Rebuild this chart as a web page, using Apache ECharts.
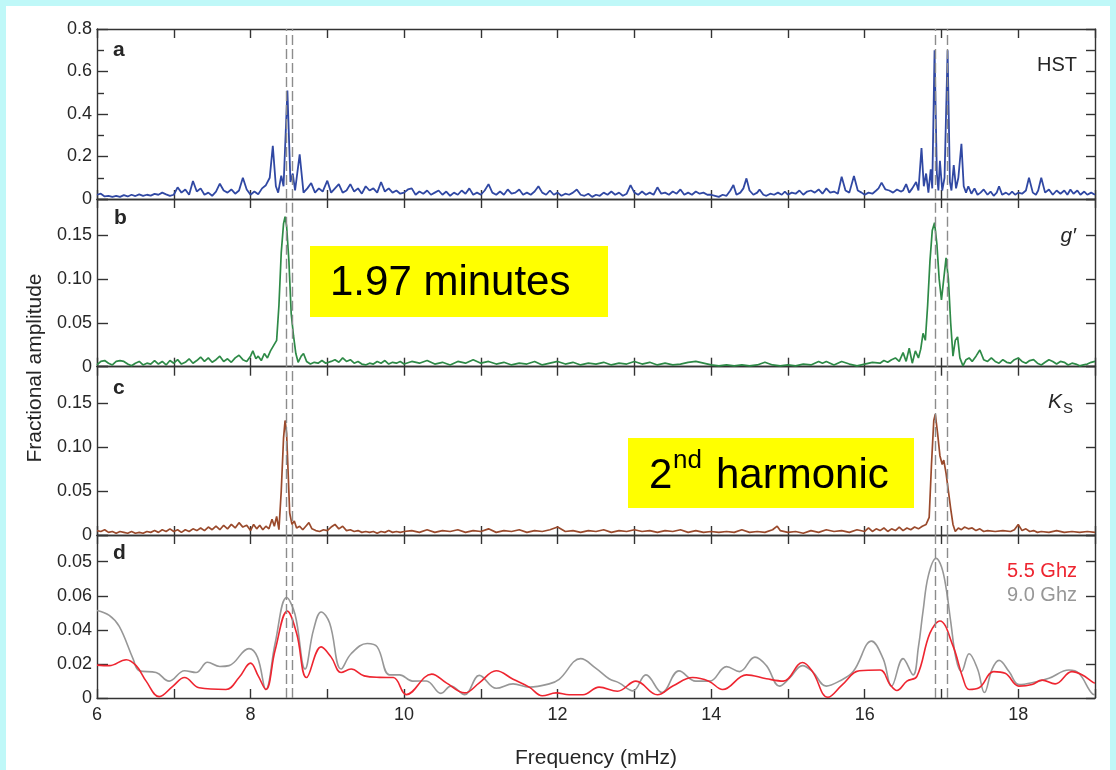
<!DOCTYPE html>
<html>
<head>
<meta charset="utf-8">
<script src="https://cdn.jsdelivr.net/npm/echarts@6/dist/echarts.min.js"></script>
<style>
  html, body { margin: 0; padding: 0; background: #bff8f8; }
  #sheet { position: absolute; left: 6px; top: 6px; width: 1104px; height: 764px; background: #ffffff; }
  #chart { position: absolute; left: 0; top: 0; width: 1116px; height: 770px; }
</style>
</head>
<body>
<div id="sheet"></div>
<div id="chart"></div>
<script>
// ---- Frequency axis (mHz) ----
const freqMin = 6;
const freqMax = 19;
const freqLabelValues = [6, 8, 10, 12, 14, 16, 18];

// Orbital frequency and its harmonic (dashed pairs)
const dashedFreqs = [8.47, 8.54, 16.92, 17.07];

// ---- Tick labels per panel ----
const aTickLabels = ['0', '0.2', '0.4', '0.6', '0.8'];
const bcTickLabels = ['0', '0.05', '0.10', '0.15'];
const dTickLabels = ['0', '0.02', '0.04', '0.06', '0.05'];

// ---- Panel a: HST amplitude spectrum [freq, amplitude] ----
const hstSpectrum = [
  [6.00,0.02],[6.05,0.025],[6.10,0.012],[6.15,0.015],[6.20,0.01],[6.25,0.015],[6.30,0.01],[6.35,0.018],[6.40,0.012],[6.45,0.02],
  [6.50,0.014],[6.55,0.022],[6.60,0.015],[6.65,0.02],[6.70,0.016],[6.75,0.024],[6.80,0.02],[6.85,0.03],[6.90,0.022],[6.95,0.015],
  [7.00,0.02],[7.05,0.055],[7.10,0.03],[7.15,0.045],[7.20,0.02],[7.25,0.085],[7.30,0.035],[7.35,0.05],[7.40,0.02],[7.45,0.03],
  [7.50,0.015],[7.55,0.035],[7.60,0.072],[7.65,0.04],[7.70,0.03],[7.75,0.045],[7.80,0.025],[7.85,0.04],[7.90,0.1],[7.95,0.045],
  [8.00,0.02],[8.05,0.035],[8.10,0.022],[8.15,0.05],[8.20,0.065],[8.25,0.1],[8.29,0.25],[8.33,0.06],[8.36,0.03],[8.40,0.11],
  [8.43,0.06],[8.48,0.51],[8.52,0.08],[8.55,0.12],[8.58,0.04],[8.64,0.21],[8.69,0.03],[8.74,0.05],[8.79,0.075],[8.84,0.03],
  [8.89,0.05],[8.94,0.035],[9.00,0.086],[9.05,0.03],[9.10,0.05],[9.15,0.07],[9.20,0.03],[9.25,0.04],[9.30,0.07],[9.35,0.035],
  [9.40,0.05],[9.45,0.025],[9.50,0.06],[9.55,0.04],[9.60,0.05],[9.65,0.03],[9.70,0.08],[9.75,0.035],[9.80,0.05],[9.85,0.03],
  [9.90,0.04],[9.95,0.025],[10.00,0.03],[10.05,0.045],[10.10,0.05],[10.15,0.02],[10.20,0.035],[10.25,0.025],[10.30,0.04],[10.35,0.02],
  [10.40,0.03],[10.45,0.04],[10.50,0.02],[10.55,0.035],[10.60,0.015],[10.65,0.03],[10.70,0.02],[10.75,0.04],[10.80,0.025],[10.85,0.05],
  [10.90,0.02],[10.95,0.03],[11.00,0.02],[11.05,0.04],[11.10,0.07],[11.15,0.03],[11.20,0.02],[11.25,0.035],[11.30,0.02],[11.35,0.045],
  [11.40,0.025],[11.45,0.03],[11.50,0.045],[11.55,0.02],[11.60,0.03],[11.65,0.02],[11.70,0.035],[11.75,0.06],[11.80,0.03],[11.85,0.02],
  [11.90,0.04],[11.95,0.02],[12.00,0.03],[12.05,0.015],[12.10,0.025],[12.15,0.02],[12.20,0.03],[12.25,0.045],[12.30,0.02],[12.35,0.015],
  [12.40,0.025],[12.45,0.01],[12.50,0.02],[12.55,0.015],[12.60,0.03],[12.65,0.02],[12.70,0.035],[12.75,0.02],[12.80,0.03],[12.85,0.015],
  [12.90,0.025],[12.95,0.065],[13.00,0.03],[13.05,0.02],[13.10,0.035],[13.15,0.02],[13.20,0.03],[13.25,0.02],[13.30,0.055],[13.35,0.025],
  [13.40,0.03],[13.45,0.02],[13.50,0.035],[13.55,0.025],[13.60,0.045],[13.65,0.02],[13.70,0.03],[13.75,0.02],[13.80,0.035],[13.85,0.025],
  [13.90,0.03],[13.95,0.02],[14.00,0.02],[14.05,0.015],[14.10,0.01],[14.15,0.02],[14.20,0.015],[14.25,0.04],[14.29,0.066],[14.33,0.02],
  [14.38,0.03],[14.42,0.05],[14.46,0.097],[14.50,0.04],[14.55,0.02],[14.60,0.03],[14.63,0.045],[14.68,0.02],[14.72,0.015],[14.77,0.025],
  [14.82,0.02],[14.87,0.03],[14.92,0.02],[14.96,0.035],[15.00,0.02],[15.05,0.03],[15.10,0.025],[15.15,0.04],[15.20,0.02],[15.25,0.035],
  [15.30,0.04],[15.35,0.03],[15.40,0.045],[15.45,0.025],[15.50,0.05],[15.55,0.03],[15.60,0.035],[15.65,0.025],[15.70,0.105],[15.75,0.04],
  [15.80,0.03],[15.86,0.108],[15.91,0.04],[15.96,0.03],[16.00,0.02],[16.05,0.03],[16.10,0.025],[16.15,0.04],[16.18,0.05],[16.22,0.077],
  [16.27,0.045],[16.32,0.04],[16.37,0.03],[16.42,0.045],[16.47,0.035],[16.50,0.04],[16.54,0.07],[16.58,0.03],[16.62,0.05],[16.67,0.08],
  [16.70,0.04],[16.74,0.24],[16.77,0.06],[16.80,0.12],[16.83,0.03],[16.86,0.14],[16.88,0.05],[16.91,0.70],[16.94,0.12],[16.96,0.04],
  [16.98,0.18],[17.01,0.04],[17.04,0.1],[17.08,0.70],[17.11,0.08],[17.13,0.04],[17.16,0.16],[17.19,0.05],[17.22,0.1],[17.26,0.26],
  [17.29,0.06],[17.32,0.03],[17.35,0.06],[17.39,0.025],[17.43,0.05],[17.47,0.02],[17.51,0.03],[17.55,0.045],[17.60,0.02],[17.64,0.035],
  [17.68,0.015],[17.72,0.03],[17.75,0.06],[17.79,0.02],[17.84,0.03],[17.88,0.02],[17.92,0.035],[17.96,0.02],[18.00,0.03],[18.05,0.025],
  [18.10,0.04],[18.14,0.10],[18.19,0.03],[18.23,0.02],[18.26,0.04],[18.30,0.10],[18.35,0.03],[18.40,0.045],[18.45,0.02],[18.50,0.04],
  [18.55,0.025],[18.60,0.04],[18.64,0.02],[18.68,0.045],[18.72,0.025],[18.77,0.04],[18.81,0.02],[18.86,0.035],[18.90,0.02],[18.95,0.03],
  [19.00,0.02]
];

// ---- Panel b: g' amplitude spectrum ----
const gSpectrum = [
  [6.00,0.002],[6.05,0.006],[6.10,0.007],[6.15,0.004],[6.20,0.002],[6.25,0.006],[6.30,0.007],[6.35,0.006],[6.40,0.003],[6.45,0.001],
  [6.50,0.004],[6.55,0.006],[6.60,0.002],[6.65,0.004],[6.70,0.003],[6.75,0.007],[6.80,0.003],[6.85,0.006],[6.90,0.002],[6.95,0.007],
  [7.00,0.004],[7.05,0.008],[7.10,0.003],[7.15,0.005],[7.20,0.009],[7.25,0.004],[7.30,0.007],[7.35,0.011],[7.40,0.006],[7.45,0.01],
  [7.50,0.005],[7.55,0.008],[7.60,0.012],[7.65,0.006],[7.70,0.009],[7.75,0.005],[7.80,0.01],[7.85,0.013],[7.90,0.008],[7.95,0.006],
  [8.00,0.012],[8.03,0.018],[8.07,0.009],[8.10,0.012],[8.14,0.007],[8.18,0.015],[8.22,0.01],[8.26,0.018],[8.30,0.024],[8.34,0.03],
  [8.37,0.07],[8.40,0.13],[8.43,0.163],[8.45,0.171],[8.47,0.16],[8.50,0.12],[8.53,0.06],[8.56,0.035],[8.59,0.015],[8.62,0.005],
  [8.66,0.012],[8.69,0.015],[8.73,0.006],[8.78,0.003],[8.83,0.005],[8.88,0.004],[8.93,0.007],[8.98,0.004],[9.05,0.006],[9.10,0.008],
  [9.15,0.005],[9.20,0.01],[9.25,0.006],[9.30,0.008],[9.35,0.004],[9.40,0.006],[9.45,0.003],[9.50,0.002],[9.55,0.004],[9.60,0.003],
  [9.65,0.006],[9.70,0.004],[9.75,0.007],[9.80,0.003],[9.85,0.005],[9.90,0.004],[9.95,0.006],[10.0,0.003],[10.1,0.006],[10.2,0.004],
  [10.3,0.007],[10.4,0.003],[10.5,0.005],[10.6,0.002],[10.7,0.006],[10.8,0.004],[10.9,0.008],[11.0,0.004],[11.1,0.006],[11.2,0.003],
  [11.3,0.005],[11.4,0.002],[11.5,0.004],[11.6,0.003],[11.7,0.006],[11.8,0.002],[11.9,0.004],[12.0,0.006],[12.1,0.003],[12.2,0.005],
  [12.3,0.002],[12.4,0.004],[12.5,0.003],[12.6,0.005],[12.7,0.002],[12.8,0.004],[12.9,0.003],[13.0,0.006],[13.1,0.003],[13.2,0.005],
  [13.3,0.002],[13.4,0.004],[13.5,0.002],[13.6,0.003],[13.7,0.005],[13.8,0.006],[13.9,0.004],[14.0,0.002],[14.1,0.001],[14.2,0.002],
  [14.3,0.001],[14.4,0.002],[14.5,0.001],[14.6,0.002],[14.7,0.005],[14.8,0.002],[14.9,0.001],[15.0,0.002],[15.1,0.001],[15.2,0.003],
  [15.3,0.002],[15.4,0.006],[15.45,0.004],[15.5,0.006],[15.6,0.002],[15.7,0.006],[15.8,0.003],[15.9,0.001],[16.0,0.003],[16.1,0.005],
  [16.2,0.004],[16.25,0.007],[16.3,0.005],[16.35,0.008],[16.4,0.01],[16.45,0.006],[16.5,0.016],[16.54,0.006],[16.58,0.021],[16.62,0.004],
  [16.66,0.018],[16.70,0.01],[16.73,0.02],[16.76,0.038],[16.79,0.03],[16.82,0.07],[16.85,0.12],[16.88,0.155],[16.91,0.164],[16.94,0.14],
  [16.97,0.1],[17.00,0.076],[17.03,0.1],[17.06,0.124],[17.09,0.1],[17.12,0.05],[17.15,0.012],[17.18,0.03],[17.21,0.034],[17.24,0.01],
  [17.28,0.001],[17.32,0.008],[17.36,0.01],[17.40,0.006],[17.45,0.012],[17.50,0.019],[17.55,0.008],[17.60,0.006],[17.65,0.01],[17.70,0.006],
  [17.75,0.004],[17.80,0.008],[17.85,0.005],[17.90,0.004],[17.95,0.008],[18.0,0.01],[18.05,0.006],[18.1,0.004],[18.15,0.007],[18.2,0.008],
  [18.25,0.004],[18.3,0.002],[18.35,0.005],[18.4,0.008],[18.45,0.006],[18.5,0.003],[18.55,0.006],[18.6,0.005],[18.65,0.002],[18.7,0.004],
  [18.75,0.003],[18.8,0.001],[18.85,0.002],[18.9,0.003],[18.95,0.005],[19.0,0.006]
];

// ---- Panel c: Ks amplitude spectrum ----
const ksSpectrum = [
  [6.00,0.005],[6.05,0.004],[6.10,0.006],[6.15,0.003],[6.20,0.004],[6.25,0.002],[6.30,0.004],[6.35,0.003],[6.40,0.002],[6.45,0.004],
  [6.50,0.002],[6.55,0.003],[6.60,0.002],[6.65,0.004],[6.70,0.003],[6.75,0.005],[6.80,0.003],[6.85,0.006],[6.90,0.004],[6.95,0.007],
  [7.00,0.004],[7.05,0.006],[7.10,0.003],[7.15,0.006],[7.20,0.004],[7.25,0.007],[7.30,0.005],[7.35,0.008],[7.40,0.005],[7.45,0.009],
  [7.50,0.006],[7.55,0.01],[7.60,0.006],[7.65,0.011],[7.70,0.007],[7.75,0.012],[7.80,0.008],[7.85,0.014],[7.90,0.009],[7.95,0.011],
  [8.00,0.005],[8.04,0.012],[8.08,0.007],[8.12,0.011],[8.16,0.006],[8.20,0.01],[8.24,0.007],[8.28,0.018],[8.31,0.01],[8.34,0.021],
  [8.37,0.006],[8.40,0.05],[8.43,0.11],[8.45,0.13],[8.47,0.115],[8.49,0.07],[8.51,0.025],[8.54,0.012],[8.57,0.016],[8.60,0.008],
  [8.64,0.01],[8.68,0.006],[8.72,0.01],[8.76,0.014],[8.80,0.007],[8.85,0.005],[8.90,0.004],[8.95,0.006],[9.00,0.005],[9.05,0.009],
  [9.10,0.012],[9.15,0.007],[9.20,0.01],[9.25,0.005],[9.30,0.006],[9.35,0.004],[9.40,0.005],[9.45,0.003],[9.50,0.004],[9.55,0.003],
  [9.60,0.004],[9.65,0.002],[9.70,0.004],[9.75,0.003],[9.80,0.005],[9.85,0.003],[9.90,0.004],[9.95,0.003],[10.0,0.004],[10.1,0.005],
  [10.2,0.003],[10.3,0.006],[10.4,0.003],[10.5,0.005],[10.6,0.004],[10.7,0.006],[10.8,0.003],[10.9,0.005],[11.0,0.004],[11.1,0.007],
  [11.2,0.003],[11.3,0.005],[11.4,0.004],[11.5,0.006],[11.6,0.003],[11.7,0.005],[11.8,0.004],[11.9,0.006],[12.0,0.009],[12.1,0.004],
  [12.2,0.005],[12.3,0.003],[12.4,0.005],[12.5,0.004],[12.6,0.006],[12.7,0.003],[12.8,0.005],[12.9,0.004],[13.0,0.006],[13.1,0.004],
  [13.2,0.005],[13.3,0.003],[13.4,0.005],[13.5,0.004],[13.6,0.006],[13.7,0.003],[13.8,0.005],[13.9,0.003],[14.0,0.004],[14.1,0.003],
  [14.2,0.004],[14.3,0.003],[14.4,0.006],[14.5,0.003],[14.6,0.004],[14.7,0.003],[14.8,0.006],[14.86,0.01],[14.9,0.005],[15.0,0.003],
  [15.1,0.004],[15.2,0.002],[15.3,0.005],[15.4,0.003],[15.5,0.006],[15.6,0.004],[15.7,0.005],[15.8,0.003],[15.9,0.006],[16.0,0.004],
  [16.05,0.008],[16.1,0.004],[16.15,0.007],[16.2,0.005],[16.25,0.008],[16.3,0.004],[16.35,0.007],[16.4,0.005],[16.45,0.009],[16.5,0.005],
  [16.55,0.008],[16.6,0.006],[16.65,0.009],[16.7,0.007],[16.75,0.01],[16.8,0.012],[16.84,0.02],[16.87,0.08],[16.90,0.13],[16.92,0.137],
  [16.95,0.115],[16.98,0.09],[17.01,0.08],[17.03,0.085],[17.06,0.07],[17.09,0.05],[17.12,0.03],[17.15,0.012],[17.18,0.004],[17.22,0.008],
  [17.26,0.006],[17.30,0.009],[17.35,0.007],[17.40,0.008],[17.45,0.005],[17.5,0.007],[17.55,0.004],[17.6,0.005],[17.7,0.004],[17.8,0.005],
  [17.9,0.004],[17.95,0.006],[18.0,0.012],[18.05,0.005],[18.1,0.007],[18.15,0.004],[18.2,0.005],[18.25,0.003],[18.3,0.004],[18.4,0.003],
  [18.5,0.005],[18.6,0.003],[18.7,0.004],[18.8,0.003],[18.9,0.004],[19.0,0.003]
];

// ---- Panel d: radio amplitude spectra ----
const radio90Spectrum = [
  [6.0,0.0514],[6.16,0.0485],[6.29,0.042],[6.47,0.023],[6.55,0.016],[6.77,0.015],[6.94,0.0099],[7.14,0.016],[7.29,0.015],[7.44,0.021],
  [7.6,0.0185],[7.72,0.019],[7.98,0.029],[8.09,0.024],[8.2,0.005],[8.32,0.032],[8.47,0.059],[8.58,0.049],[8.71,0.017],[8.82,0.04],
  [8.92,0.0505],[9.03,0.044],[9.18,0.017],[9.31,0.026],[9.52,0.032],[9.65,0.03],[9.81,0.0136],[9.94,0.0136],[10.11,0.0099],[10.29,0.01],
  [10.48,0.0027],[10.61,0.007],[10.79,0.002],[10.98,0.0133],[11.2,0.0057],[11.42,0.0083],[11.63,0.0064],[11.89,0.0083],[12.02,0.011],[12.3,0.0231],
  [12.5,0.0174],[12.67,0.0113],[12.8,0.0089],[12.98,0.0042],[13.15,0.0136],[13.36,0.0032],[13.58,0.0159],[13.8,0.0099],[13.98,0.0099],[14.2,0.0184],
  [14.37,0.0155],[14.57,0.024],[14.72,0.019],[14.89,0.007],[15.02,0.0116],[15.19,0.019],[15.32,0.0155],[15.5,0.007],[15.67,0.0099],[15.85,0.0155],
  [16.09,0.0334],[16.24,0.0231],[16.35,0.007],[16.5,0.0231],[16.63,0.0136],[16.70,0.03],[16.76,0.051],[16.83,0.072],[16.93,0.082],[17.0,0.077],
  [17.06,0.0646],[17.12,0.045],[17.19,0.0231],[17.26,0.0155],[17.36,0.026],[17.47,0.017],[17.56,0.0032],[17.66,0.017],[17.75,0.0221],[17.88,0.0155],
  [18.01,0.0079],[18.18,0.009],[18.4,0.0116],[18.66,0.0164],[18.79,0.0145],[18.97,0.0023],[19.0,0.002]
];
const radio55Spectrum = [
  [6.0,0.0193],[6.16,0.019],[6.38,0.0225],[6.51,0.019],[6.64,0.0099],[6.81,0.0008],[6.99,0.007],[7.14,0.012],[7.33,0.006],[7.68,0.005],
  [7.85,0.012],[8.0,0.0205],[8.1,0.013],[8.2,0.005],[8.32,0.028],[8.48,0.051],[8.6,0.038],[8.73,0.012],[8.92,0.03],[9.05,0.024],
  [9.18,0.015],[9.31,0.017],[9.48,0.013],[9.68,0.0121],[9.86,0.012],[10.03,0.002],[10.36,0.014],[10.55,0.0089],[10.79,0.003],[10.98,0.0089],
  [11.2,0.016],[11.42,0.011],[11.63,0.0064],[11.8,0.0013],[11.98,0.003],[12.15,0.0019],[12.33,0.0019],[12.54,0.0064],[12.78,0.004],[13.02,0.0099],
  [13.3,0.0019],[13.5,0.007],[13.76,0.012],[13.97,0.0099],[14.15,0.005],[14.46,0.0136],[14.72,0.0113],[14.94,0.0099],[15.19,0.0208],[15.32,0.0155],
  [15.52,0.0004],[15.71,0.0079],[15.93,0.016],[16.2,0.0164],[16.33,0.0079],[16.42,0.0044],[16.55,0.0099],[16.68,0.0127],[16.85,0.0381],[16.98,0.0452],
  [17.15,0.0306],[17.28,0.0116],[17.36,0.005],[17.49,0.006],[17.68,0.0155],[17.83,0.0145],[18.01,0.007],[18.18,0.0079],[18.31,0.0105],[18.48,0.0083],
  [18.7,0.0155],[18.83,0.0136],[18.98,0.009],[19.0,0.0088]
];

// ---- Layout and styling ----
const FONT = 'Arial, "Liberation Sans", Helvetica, sans-serif';
const AXIS_COLOR = '#333';
const TEXT_COLOR = '#262626';
const PLOT_LEFT = 97;
const PLOT_RIGHT = 21;

const panels = [
  { top: 29,    height: 170,   max: 0.8,    step: 0.2,  rightStep: 0.1,  labels: aTickLabels,  minor: true },
  { top: 199,   height: 167.7, max: 0.191,  step: 0.05, rightStep: 0.05, labels: bcTickLabels, minor: false },
  { top: 366.7, height: 168.3, max: 0.191,  step: 0.05, rightStep: 0.05, labels: bcTickLabels, minor: false },
  { top: 535,   height: 169,   max: 0.0957, step: 0.02, rightStep: 0.02, labels: dTickLabels,  minor: false }
];

function tickLabel(labels, step) {
  return function (v) {
    const k = v / step;
    const i = Math.round(k);
    if (Math.abs(k - i) > 1e-6) return '';
    return labels[i] !== undefined ? labels[i] : '';
  };
}

const axisLine = { show: true, onZero: false, lineStyle: { color: AXIS_COLOR, width: 1.4 } };

const grids = [], xAxes = [], yAxes = [];
panels.forEach(function (p) {
  grids.push({ left: PLOT_LEFT, right: PLOT_RIGHT, top: p.top, height: p.height });
});
// bottom x axes
panels.forEach(function (p, i) {
  const last = i === panels.length - 1;
  xAxes.push({
    type: 'value', gridIndex: i, position: 'bottom', min: freqMin, max: freqMax, interval: 1,
    axisLine: axisLine,
    axisTick: { show: true, inside: true, length: 9, lineStyle: { color: AXIS_COLOR, width: 1.4 } },
    splitLine: { show: false },
    axisLabel: {
      show: last, margin: 8, fontSize: 18, fontFamily: FONT, color: TEXT_COLOR,
      formatter: function (v) { return freqLabelValues.indexOf(v) >= 0 ? String(v) : ''; }
    },
    name: last ? 'Frequency (mHz)' : '',
    nameLocation: 'middle', nameGap: 50,
    nameTextStyle: { fontSize: 21, fontFamily: FONT, color: TEXT_COLOR }
  });
});
// top x axes
panels.forEach(function (p, i) {
  xAxes.push({
    type: 'value', gridIndex: i, position: 'top', min: freqMin, max: freqMax, interval: 1,
    axisLine: axisLine,
    axisTick: { show: true, inside: true, length: 9, lineStyle: { color: AXIS_COLOR, width: 1.4 } },
    splitLine: { show: false },
    axisLabel: { show: false }
  });
});
// left y axes
panels.forEach(function (p, i) {
  yAxes.push({
    type: 'value', gridIndex: i, position: 'left', min: 0, max: p.max, interval: p.step,
    axisLine: axisLine,
    axisTick: { show: true, inside: true, length: 11, lineStyle: { color: AXIS_COLOR, width: 1.4 } },
    minorTick: { show: p.minor, splitNumber: 2, length: 7, lineStyle: { color: AXIS_COLOR, width: 1.4 } },
    splitLine: { show: false },
    axisLabel: { margin: 5, fontSize: 18, fontFamily: FONT, color: TEXT_COLOR, formatter: tickLabel(p.labels, p.step) }
  });
});
// right y axes
panels.forEach(function (p, i) {
  yAxes.push({
    type: 'value', gridIndex: i, position: 'right', min: 0, max: p.max, interval: p.rightStep,
    axisLine: axisLine,
    axisTick: { show: true, inside: true, length: 9, lineStyle: { color: AXIS_COLOR, width: 1.4 } },
    splitLine: { show: false },
    axisLabel: { show: false }
  });
});

const dashedMarks = {
  silent: true,
  symbol: ['none', 'none'],
  label: { show: false },
  lineStyle: { color: '#8c8c8c', width: 1.4, type: [10, 4] },
  data: dashedFreqs.map(function (f) { return { xAxis: f }; })
};

function lineSeries(name, data, idx, color, width, extra) {
  return Object.assign({
    name: name, type: 'line', xAxisIndex: idx, yAxisIndex: idx, data: data,
    showSymbol: false, symbol: 'none', animation: false,
    lineStyle: { color: color, width: width }, itemStyle: { color: color }
  }, extra || {});
}

const series = [
  lineSeries('HST', hstSpectrum, 0, '#3048a3', 1.8, { markLine: dashedMarks }),
  lineSeries("g'", gSpectrum, 1, '#2e8a47', 1.7, { markLine: dashedMarks }),
  lineSeries('Ks', ksSpectrum, 2, '#9a4a2c', 1.7, { markLine: dashedMarks }),
  lineSeries('9.0 Ghz', radio90Spectrum, 3, '#979797', 1.6, { smooth: 0.4 }),
  lineSeries('5.5 Ghz', radio55Spectrum, 3, '#ee2530', 1.6, { smooth: 0.4, markLine: dashedMarks })
];

function txt(x, y, text, font, extra) {
  return {
    type: 'text', x: x, y: y, silent: true,
    style: Object.assign({ text: text, font: font, fill: TEXT_COLOR, verticalAlign: 'middle' }, extra || {})
  };
}

const graphics = [
  // panel letters
  txt(113, 50, 'a', 'bold 21px ' + FONT),
  txt(114, 218, 'b', 'bold 21px ' + FONT),
  txt(113, 388, 'c', 'bold 21px ' + FONT),
  txt(113, 553, 'd', 'bold 21px ' + FONT),
  // band labels
  txt(1077, 65, 'HST', '20px ' + FONT, { align: 'right' }),
  txt(1076, 236, 'g\u2032', 'italic 21px ' + FONT, { align: 'right' }),
  txt(1062, 402, 'K', 'italic 21px ' + FONT, { align: 'right' }),
  txt(1063, 409, 'S', '15px ' + FONT, { align: 'left' }),
  txt(1077, 571, '5.5 Ghz', '20px ' + FONT, { align: 'right', fill: '#ee2530' }),
  txt(1077, 595, '9.0 Ghz', '20px ' + FONT, { align: 'right', fill: '#979797' }),
  // axis title
  {
    type: 'text', x: 35, y: 368, rotation: Math.PI / 2, silent: true,
    style: { text: 'Fractional amplitude', font: '21px ' + FONT, fill: TEXT_COLOR, align: 'center', verticalAlign: 'middle' }
  },
  // callouts
  { type: 'rect', silent: true, shape: { x: 310, y: 246, width: 298, height: 71 }, style: { fill: '#ffff00' } },
  txt(330, 283, '1.97 minutes', '42px ' + FONT, { fill: '#000' }),
  { type: 'rect', silent: true, shape: { x: 628, y: 438, width: 286, height: 70 }, style: { fill: '#ffff00' } },
  txt(649, 476, '2', '42px ' + FONT, { fill: '#000' }),
  txt(673, 461, 'nd', '26px ' + FONT, { fill: '#000' }),
  txt(716, 476, 'harmonic', '42px ' + FONT, { fill: '#000' })
];

const chart = echarts.init(document.getElementById('chart'), null, { renderer: 'canvas' });
chart.setOption({
  backgroundColor: 'transparent',
  animation: false,
  grid: grids,
  xAxis: xAxes,
  yAxis: yAxes,
  series: series,
  graphic: { elements: graphics }
});
</script>
</body>
</html>
